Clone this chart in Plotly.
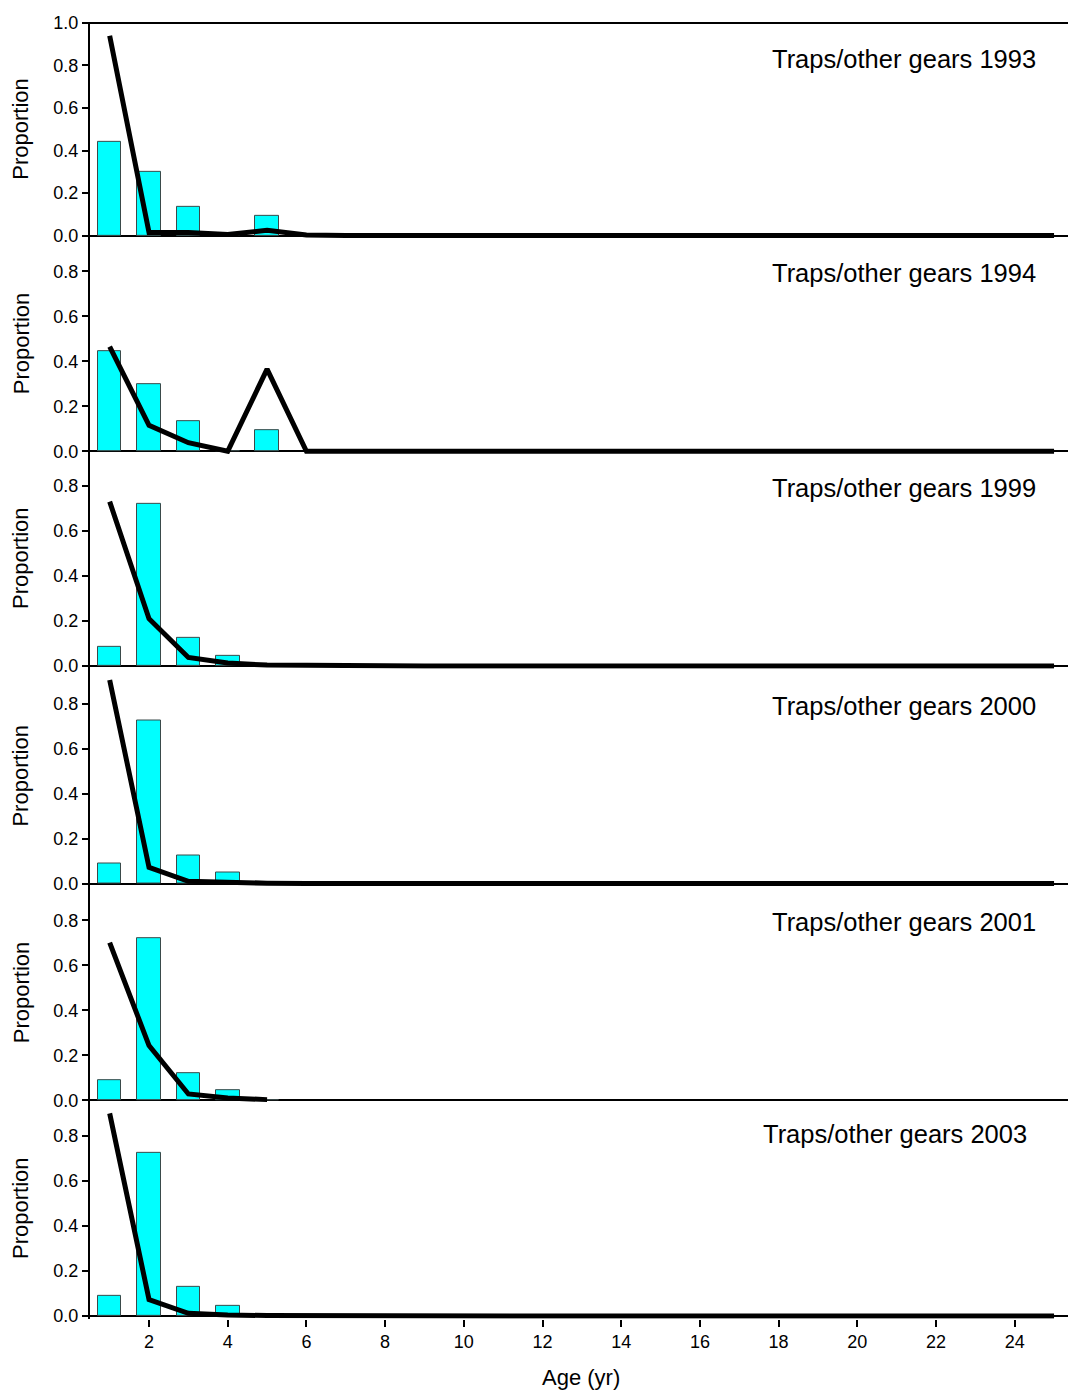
import plotly.graph_objects as go
from plotly.subplots import make_subplots

# ages on the x axis
ages = [1, 2, 3, 4, 5, 6, 7, 8, 9, 10, 11, 12, 13, 14, 15, 16, 17, 18, 19, 20, 21, 22, 23, 24, 25]
bar_ages = [1, 2, 3, 4, 5]
panel_titles = ["Traps/other gears 1993", "Traps/other gears 1994", "Traps/other gears 1999",
                "Traps/other gears 2000", "Traps/other gears 2001", "Traps/other gears 2003"]

# observed proportions (bars)
obs_1993 = [0.44, 0.30, 0.135, 0.0, 0.095]
obs_1994 = [0.445, 0.30, 0.135, 0.0, 0.095]
obs_1999 = [0.085, 0.72, 0.125, 0.045, 0.0]
obs_2000 = [0.088, 0.724, 0.126, 0.048, 0.0]
obs_2001 = [0.088, 0.72, 0.12, 0.045, 0.0]
obs_2003 = [0.09, 0.724, 0.128, 0.047, 0.0]

# predicted proportions (lines)
pred_1993 = [0.94, 0.015, 0.015, 0.005, 0.025, 0.003, 0.001, 0, 0, 0, 0, 0, 0, 0, 0, 0, 0, 0, 0, 0, 0, 0, 0, 0, 0]
pred_1994 = [0.465, 0.115, 0.038, 0.0, 0.365, 0.0, 0, 0, 0, 0, 0, 0, 0, 0, 0, 0, 0, 0, 0, 0, 0, 0, 0, 0, 0]
pred_1999 = [0.73, 0.21, 0.038, 0.013, 0.004, 0.002, 0.001, 0, 0, 0, 0, 0, 0, 0, 0, 0, 0, 0, 0, 0, 0, 0, 0, 0, 0]
pred_2000 = [0.905, 0.072, 0.01, 0.005, 0.002, 0.001, 0, 0, 0, 0, 0, 0, 0, 0, 0, 0, 0, 0, 0, 0, 0, 0, 0, 0, 0]
pred_2001 = [0.70, 0.243, 0.028, 0.01, 0.003]
pred_2003 = [0.90, 0.073, 0.012, 0.004, 0.002, 0.001, 0, 0, 0, 0, 0, 0, 0, 0, 0, 0, 0, 0, 0, 0, 0, 0, 0, 0, 0]

obs_all = [obs_1993, obs_1994, obs_1999, obs_2000, obs_2001, obs_2003]
pred_all = [pred_1993, pred_1994, pred_1999, pred_2000, pred_2001, pred_2003]

W, H = 1068, 1397
L = 90

# where each panel's zero line sits in the target picture (px), px per unit, top value
zero_px = [228, 445, 661, 880, 1098, 1315]
px_unit = [214, 226.5, 226.5, 226.5, 226.5, 226.5]
y_top = [1.005, 0.96, 0.96, 0.96, 0.96, 0.96]
y_low = -0.012
label_y = [0.83, 0.79, 0.79, 0.79, 0.79, 0.81]
label_x = [24.59, 24.59, 24.59, 24.59, 24.59, 24.36]

font = "Liberation Sans, Arial, sans-serif"

# the photographed page comes out slightly squashed vertically, stretch to compensate
SY = 0.9939


def frac(px):
    return (H - px / SY) / H


fig = make_subplots(rows=6, cols=1, shared_xaxes=True)

for i in range(6):
    r = i + 1
    fig.add_trace(go.Bar(x=bar_ages, y=obs_all[i], width=0.6,
                         marker=dict(color="#00FFFF", line=dict(color="#3a4a4a", width=1)),
                         showlegend=False), row=r, col=1)
    fig.add_trace(go.Scatter(x=ages[:len(pred_all[i])], y=pred_all[i], mode="lines",
                             line=dict(color="black", width=5), showlegend=False), row=r, col=1)

    bottom = zero_px[i] - y_low * px_unit[i]
    top = zero_px[i] - y_top[i] * px_unit[i]
    yname = "yaxis" if r == 1 else f"yaxis{r}"
    xname = "xaxis" if r == 1 else f"xaxis{r}"
    if r == 1:
        tv = [0.0, 0.2, 0.4, 0.6, 0.8, 1.0]
    else:
        tv = [0.0, 0.2, 0.4, 0.6, 0.8]
    fig.layout[yname].update(domain=[frac(bottom), frac(top)], range=[y_low, y_top[i]], tickvals=tv,
                             ticktext=[f"{v:.1f}" for v in tv],
                             ticks="outside", ticklen=6, tickwidth=1.5, tickcolor="black",
                             showline=True, linecolor="black", linewidth=2,
                             showgrid=False, zeroline=True, zerolinecolor="black", zerolinewidth=1.5,
                             tickfont=dict(family=font, size=18, color="black"))
    fig.layout[xname].update(range=[0.5, (1068 - 70.3) / 39.35], showgrid=False, zeroline=False,
                             showline=False,
                             tickvals=[2, 4, 6, 8, 10, 12, 14, 16, 18, 20, 22, 24],
                             ticks="outside" if r == 6 else "", ticklen=7, tickwidth=1.5,
                             tickcolor="black", showticklabels=(r == 6),
                             tickfont=dict(family=font, size=18, color="black"))

    xref = "x" if r == 1 else f"x{r}"
    yref = "y" if r == 1 else f"y{r}"
    fig.add_annotation(x=label_x[i], y=label_y[i], xref=xref, yref=yref, text=panel_titles[i],
                       showarrow=False, xanchor="right", yanchor="middle",
                       font=dict(family=font, size=25.5, color="black"))
    # y axis title
    fig.add_annotation(x=(21 - L) / (W - L), y=frac((zero_px[i] + top) / 2), xref="paper", yref="paper",
                       text="Proportion", textangle=-90, showarrow=False,
                       xanchor="center", yanchor="middle",
                       font=dict(family=font, size=22, color="black"))

# top border of the first panel
fig.add_shape(type="line", xref="x domain", yref="paper", x0=0, x1=1, y0=frac(14), y1=frac(14),
              line=dict(color="black", width=2))

fig.add_annotation(x=(581 - L) / (W - L), y=(H - 1385) / H, xref="paper", yref="paper",
                   text="Age (yr)", showarrow=False, xanchor="center", yanchor="middle",
                   font=dict(family=font, size=22, color="black"))

fig.update_layout(width=W, height=H, margin=dict(l=L, r=0, t=0, b=0),
                  plot_bgcolor="rgba(0,0,0,0)", paper_bgcolor="white", bargap=0, showlegend=False)

# pin the figure to the window corner so page margins do not shift it
pin = ("document.body.style.margin='0';"
       "document.documentElement.style.overflow='hidden';"
       "var d=document.getElementsByClassName('plotly-graph-div')[0];"
       "d.style.position='fixed';d.style.left='0px';d.style.top='0px';")
fig.write_html("out.html", config={"displayModeBar": False}, post_script=pin)
